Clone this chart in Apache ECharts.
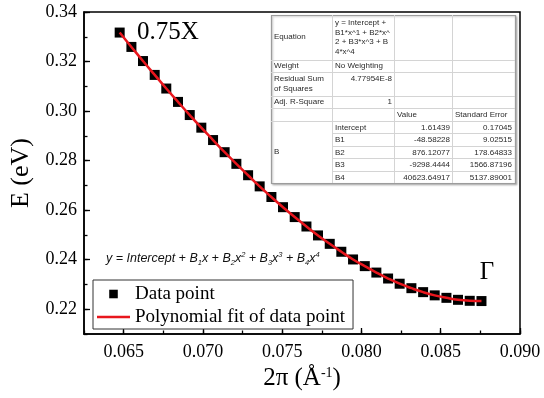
<!DOCTYPE html>
<html>
<head>
<meta charset="utf-8">
<script src="https://cdn.jsdelivr.net/npm/echarts@6/dist/echarts.min.js"></script>
<style>
  html, body { margin: 0; padding: 0; background: #fff; }
  #chart { width: 544px; height: 398px; }
</style>
</head>
<body>
<div id="chart"></div>
<script>
// 2π (1/Å) and E (eV)
const waveVector = [0.06475, 0.06549, 0.06622, 0.06696, 0.06769, 0.06843, 0.06917, 0.06990,
  0.07064, 0.07137, 0.07211, 0.07285, 0.07358, 0.07432, 0.07505, 0.07579,
  0.07653, 0.07726, 0.07800, 0.07873, 0.07947, 0.08021, 0.08094, 0.08168,
  0.08241, 0.08315, 0.08389, 0.08462, 0.08536, 0.08609, 0.08683, 0.08757];
const energy = [0.3317, 0.3259, 0.3202, 0.3146, 0.3091, 0.3037, 0.2984, 0.2933,
  0.2883, 0.2834, 0.2787, 0.2741, 0.2696, 0.2653, 0.2612, 0.2572,
  0.2534, 0.2498, 0.2464, 0.2432, 0.2401, 0.2374, 0.2348, 0.2324,
  0.2303, 0.2285, 0.2269, 0.2256, 0.2246, 0.2238, 0.2234, 0.2233];
const fitEnergy = energy;

const xLabels = [0.065, 0.070, 0.075, 0.080, 0.085, 0.090];
const yLabels = [0.22, 0.24, 0.26, 0.28, 0.30, 0.32, 0.34];

// fit report table
const reportRows = [
  ['Equation', 'y = Intercept +\nB1*x^1 + B2*x^\n2 + B3*x^3 + B\n4*x^4'],
  ['Weight', 'No Weighting'],
  ['Residual Sum\nof Squares', '4.77954E-8'],
  ['Adj. R-Square', '1']
];
const paramHeader = ['Value', 'Standard Error'];
const paramNames = ['Intercept', 'B1', 'B2', 'B3', 'B4'];
const paramValues = ['1.61439', '-48.58228', '876.12077', '-9298.4444', '40623.64917'];
const paramErrors = ['0.17045', '9.02515', '178.64833', '1566.87196', '5137.89001'];

const serif = 'Liberation Serif';
const sans = 'Liberation Sans';
const red = '#e8161d';

// table layout
const colX = [271, 332, 394, 452, 515];
const rowY = [15, 60, 72, 96, 108, 121, 133, 146, 158, 171, 183];
const tableEls = [];
tableEls.push({
  type: 'rect',
  shape: { x: colX[0] + 0.5, y: rowY[0] + 0.5, width: colX[4] - colX[0], height: rowY[10] - rowY[0] },
  style: { fill: '#fff', stroke: '#9c9c9c', lineWidth: 1.2, shadowBlur: 2, shadowOffsetX: 1, shadowOffsetY: 1, shadowColor: 'rgba(0,0,0,0.25)' }
});
for (let r = 1; r < rowY.length - 1; r++) {
  const x0 = r >= 6 ? colX[1] : colX[0];
  tableEls.push({ type: 'line', shape: { x1: x0, y1: rowY[r] + 0.5, x2: colX[4], y2: rowY[r] + 0.5 }, style: { stroke: '#d4d4d4', lineWidth: 1 } });
}
for (let c = 1; c < colX.length - 1; c++) {
  tableEls.push({ type: 'line', shape: { x1: colX[c] + 0.5, y1: rowY[0], x2: colX[c] + 0.5, y2: rowY[10] }, style: { stroke: '#d4d4d4', lineWidth: 1 } });
}
function cell(text, x, y, align, vAlign) {
  tableEls.push({
    type: 'text', x: x, y: y,
    style: { text: text, fontFamily: sans, fontSize: 8, lineHeight: 9.7, fill: '#2a2a2a', align: align, verticalAlign: vAlign || 'middle' }
  });
}
cell(reportRows[0][0], colX[0] + 3, 37, 'left');
cell(reportRows[0][1], colX[1] + 3, 18, 'left', 'top');
cell(reportRows[1][0], colX[0] + 3, 66, 'left');
cell(reportRows[1][1], colX[1] + 3, 66, 'left');
cell(reportRows[2][0], colX[0] + 3, 74, 'left', 'top');
cell(reportRows[2][1], colX[2] - 2, 74, 'right', 'top');
cell(reportRows[3][0], colX[0] + 3, 102, 'left');
cell(reportRows[3][1], colX[2] - 2, 102, 'right');
cell(paramHeader[0], colX[2] + 3, 114.5, 'left');
cell(paramHeader[1], colX[3] + 3, 114.5, 'left');
cell('B', colX[0] + 3, 152, 'left');
paramNames.forEach((name, i) => {
  const cy = (rowY[5 + i] + rowY[6 + i]) / 2 + 0.5;
  cell(name, colX[1] + 3, cy, 'left');
  cell(paramValues[i], colX[3] - 2, cy, 'right');
  cell(paramErrors[i], colX[4] - 3, cy, 'right');
});

const chart = echarts.init(document.getElementById('chart'));

const baseX = { type: 'value', min: 0.0625, max: 0.09, interval: 0.0025, position: 'bottom', splitLine: { show: false } };
const baseY = { type: 'value', min: 0.21, max: 0.34, interval: 0.01, position: 'left', splitLine: { show: false } };
const tickLabel = { fontFamily: serif, fontSize: 18, color: '#000' };

chart.setOption({
  animation: false,
  backgroundColor: '#fff',
  textStyle: { fontFamily: serif },
  grid: { left: 82, right: 24, top: 12, bottom: 64, show: true, borderColor: '#000', borderWidth: 1.5 },
  xAxis: [
    Object.assign({}, baseX, {
      name: '2π (Å{s|-1})',
      nameLocation: 'middle',
      nameGap: 24,
      nameTextStyle: { fontFamily: serif, fontSize: 25, color: '#000',
        rich: { s: { fontFamily: serif, fontSize: 14, verticalAlign: 'top', lineHeight: 26, color: '#000' } } },
      axisLine: { lineStyle: { color: '#000', width: 1.5 } },
      axisTick: { inside: true, length: 6, customValues: xLabels, lineStyle: { color: '#000', width: 1.3 } },
      axisLabel: Object.assign({ customValues: xLabels, margin: 9, formatter: v => v.toFixed(3) }, tickLabel)
    }),
    Object.assign({}, baseX, {
      axisLine: { show: false },
      axisTick: { inside: true, length: 3.5, lineStyle: { color: '#000', width: 1.3 } },
      axisLabel: { show: false }
    })
  ],
  yAxis: [
    Object.assign({}, baseY, {
      name: 'E (eV)',
      nameLocation: 'middle',
      nameGap: 50,
      nameTextStyle: { fontFamily: serif, fontSize: 26, color: '#000' },
      axisLine: { lineStyle: { color: '#000', width: 1.5 } },
      axisTick: { inside: true, length: 6, customValues: yLabels, lineStyle: { color: '#000', width: 1.3 } },
      axisLabel: Object.assign({ customValues: yLabels, margin: 7, formatter: v => v.toFixed(2) }, tickLabel)
    }),
    Object.assign({}, baseY, {
      axisLine: { show: false },
      axisTick: { inside: true, length: 3.5, lineStyle: { color: '#000', width: 1.3 } },
      axisLabel: { show: false }
    })
  ],
  legend: {
    orient: 'vertical',
    left: 93,
    top: 280,
    padding: [4, 8, 2, 4],
    itemWidth: 33,
    itemHeight: 12,
    itemGap: 3,
    borderColor: '#333',
    borderWidth: 1,
    backgroundColor: '#fff',
    textStyle: { fontFamily: serif, fontSize: 19, color: '#000', lineHeight: 20 },
    data: [
      { name: 'Data point', icon: 'path://M0,0M14,14M2,2H12V12H2Z' },
      { name: 'Polynomial fit of data point', icon: 'path://M0,0H33V2.6H0Z' }
    ]
  },
  series: [
    {
      name: 'Data point',
      type: 'scatter',
      symbol: 'rect',
      symbolSize: 10,
      itemStyle: { color: '#000', opacity: 1 },
      z: 2,
      data: waveVector.map((x, i) => [x, energy[i]])
    },
    {
      name: 'Polynomial fit of data point',
      type: 'line',
      smooth: true,
      symbol: 'none',
      lineStyle: { color: red, width: 2.5 },
      itemStyle: { color: red },
      z: 3,
      data: waveVector.map((x, i) => [x, fitEnergy[i]])
    }
  ],
  graphic: tableEls.concat([
    { type: 'text', x: 137, y: 32, style: { text: '0.75X', fontFamily: serif, fontSize: 25, fill: '#000', align: 'left', verticalAlign: 'middle' } },
    { type: 'text', x: 487, y: 272, style: { text: 'Γ', fontFamily: serif, fontSize: 25, fill: '#000', align: 'center', verticalAlign: 'middle' } },
    {
      type: 'text', x: 106, y: 259,
      style: {
        text: '{t|y = Intercept + B}{s|1}{t|x + B}{s|2}{t|x}{p|2}{t| + B}{s|3}{t|x}{p|3}{t| + B}{s|4}{t|x}{p|4}',
        align: 'left', verticalAlign: 'middle',
        rich: {
          t: { fontFamily: sans, fontStyle: 'italic', fontSize: 12.5, lineHeight: 16, fill: '#111' },
          s: { fontFamily: sans, fontStyle: 'italic', fontSize: 7.5, lineHeight: 12, verticalAlign: 'bottom', fill: '#111' },
          p: { fontFamily: sans, fontStyle: 'italic', fontSize: 7.5, lineHeight: 12, verticalAlign: 'top', fill: '#111' }
        }
      }
    }
  ])
});
</script>
</body>
</html>
